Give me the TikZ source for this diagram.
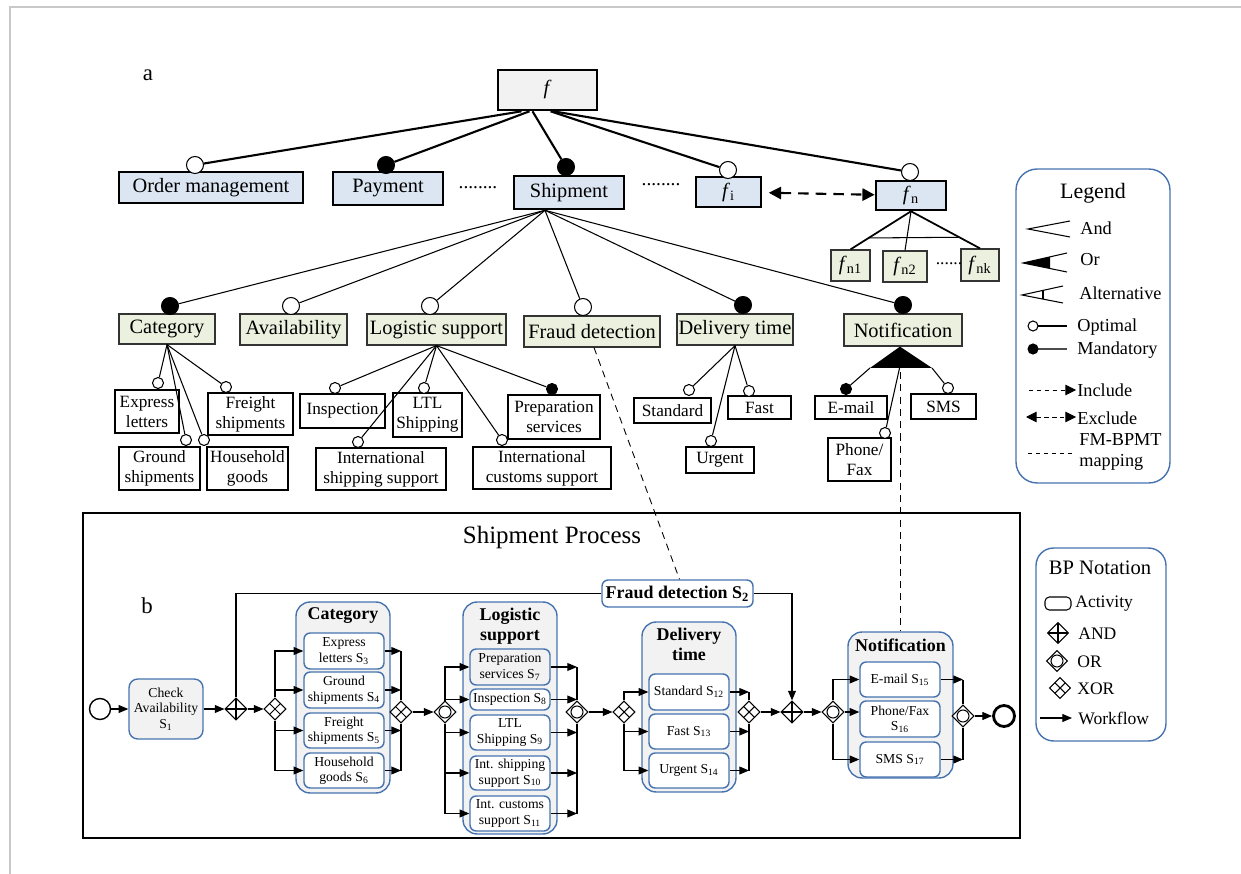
\documentclass[tikz,border=0pt]{standalone}
\usepackage{fontspec}
\setmainfont{Liberation Serif}
\usetikzlibrary{arrows.meta}
\usetikzlibrary{calc}
\usetikzlibrary{positioning}
\usetikzlibrary{shapes.geometric}
\definecolor{fmblue}{RGB}{220,230,242}
\definecolor{fmgreen}{RGB}{235,241,222}
\definecolor{fmgrey}{RGB}{242,242,242}
\definecolor{bpblue}{RGB}{70,115,175}
\definecolor{framegrey}{RGB}{200,200,200}

\begin{document}
\begin{tikzpicture}[x=0.02cm, y=-0.02cm,
  fmbox/.style={draw, inner sep=0pt, font=\fontsize{11.6}{13}\selectfont},
  topbox/.style={fmbox, fill=fmblue},
  midbox/.style={fmbox, fill=fmgreen, draw=black!80, line width=0.7pt},
  leafbox/.style={draw, fill=white, inner sep=0pt, align=center, line width=0.7pt, font=\fontsize{9.8}{11.4}\selectfont},
  optc/.style={circle, draw, fill=white, inner sep=0pt, line width=0.6pt, minimum size=#1},
  optc/.default=0.34cm,
  mandc/.style={circle, draw, fill=black, inner sep=0pt, line width=0.6pt, minimum size=#1},
  mandc/.default=0.34cm,
  mapline/.style={dash pattern=on 4pt off 3pt, line width=0.5pt},
  act/.style={draw=bpblue, fill=white, rounded corners=3.5pt, line width=0.8pt, align=center, inner sep=0pt, font=\fontsize{7.8}{8.8}\selectfont},
  grp/.style={draw=bpblue, fill=fmgrey, rounded corners=8pt, line width=0.8pt, inner sep=0pt},
  grptitle/.style={font=\bfseries\fontsize{10.2}{11.4}\selectfont, align=center, inner sep=0pt},
  gate/.style={diamond, draw, fill=white, inner sep=0pt, minimum size=0.44cm, line width=0.6pt},
  andgw/.style={gate, path picture={\draw[line width=0.6pt] (path picture bounding box.north) -- (path picture bounding box.south) (path picture bounding box.west) -- (path picture bounding box.east);}},
  xorgw/.style={gate, path picture={\draw[line width=0.6pt] ($(path picture bounding box.north)!0.5!(path picture bounding box.west)$) -- ($(path picture bounding box.south)!0.5!(path picture bounding box.east)$) ($(path picture bounding box.north)!0.5!(path picture bounding box.east)$) -- ($(path picture bounding box.south)!0.5!(path picture bounding box.west)$);}},
  orgw/.style={gate, path picture={\draw[line width=0.6pt] (path picture bounding box.center) circle (0.12cm);}},
  flow/.style={-{Triangle[length=5.5pt,width=4.5pt]}, line width=0.6pt},
  legtext/.style={anchor=west, inner sep=0pt, align=left, font=\fontsize{10.4}{11.4}\selectfont}]
\useasboundingbox (0,0) rectangle (1241,874);
\draw[framegrey, line width=0.8pt] (10,874) -- (10,7) -- (1241,7);

% ---------------- feature model (a)
\node[font=\fontsize{13}{15}\selectfont] (lbl-a) at (148,75) {a};
\node[fmbox, fill=fmgrey, line width=1.5pt, minimum width=1.98cm, minimum height=0.8cm] (f) at (547.5,90) {\textit{f}};

\node[topbox, line width=0.9pt, minimum width=3.68cm, minimum height=0.62cm] (om) at (211,187.5) {Order management};
\node[topbox, line width=1.5pt, minimum width=2.2cm, minimum height=0.66cm] (pay) at (388,188.5) {Payment};
\node[topbox, line width=1.5pt, minimum width=2.2cm, minimum height=0.66cm] (shp) at (569,192.5) {Shipment};
\node[topbox, line width=0.9pt, minimum width=1.3cm, minimum height=0.6cm] (fi) at (728.5,192) {\textit{f}\textsubscript{i}};
\node[topbox, line width=1.5pt, minimum width=1.4cm, minimum height=0.58cm] (fn) at (911,195.5) {\textit{f}\textsubscript{n}};
\node[font=\fontsize{11}{13}\selectfont] (dots1) at (478,188) {........};
\node[font=\fontsize{11}{13}\selectfont] (dots2) at (661,185) {........};

\node[optc] (c-om) at (195,165) {};
\node[mandc] (c-pay) at (386,165) {};
\node[mandc] (c-shp) at (566,167) {};
\node[optc] (c-fi) at (728,170) {};
\node[optc] (c-fn) at (910,172) {};
\draw[line width=1.2pt] ($(f.south)+(-26,0)$) -- (c-om);
\draw[line width=1.2pt] ($(f.south)+(-18,0)$) -- (c-pay);
\draw[line width=1.2pt] ($(f.south)+(-15,0)$) -- (c-shp);
\draw[line width=1.2pt] ($(f.south)+(3,0)$) -- (c-fi);
\draw[line width=1.2pt] ($(f.south)+(6,0)$) -- (c-fn);
\draw[dash pattern=on 6pt off 4pt, line width=1.2pt, {Triangle[length=7pt,width=7pt]}-{Triangle[length=7pt,width=7pt]}, shorten <=4pt] (fi) -- (fn);

% children of fn
\node[midbox, minimum width=0.78cm, minimum height=0.62cm] (fn1) at (850.5,265.5) {\textit{f}\textsubscript{n1}};
\node[midbox, minimum width=0.88cm, minimum height=0.62cm] (fn2) at (905,266.5) {\textit{f}\textsubscript{n2}};
\node[midbox, minimum width=0.76cm, minimum height=0.64cm] (fnk) at (980,265) {\textit{f}\textsubscript{nk}};
\node[font=\fontsize{10}{12}\selectfont] (dots3) at (949,264) {......};
\draw[line width=1pt] (fn.south) -- (fn1.north);
\draw[line width=0.6pt] (fn.south) -- (fn2.north);
\draw[line width=1pt] (fn.south) -- (fnk.north);
\draw[line width=0.6pt] ($(fn.south)!0.7!(fn1.north)$) -- ($(fn.south)!0.7!(fnk.north)$);

% level 2
\node[midbox, minimum width=1.92cm, minimum height=0.6cm] (cat) at (167,329) {Category};
\node[midbox, minimum width=2.14cm, minimum height=0.62cm] (avl) at (293.5,329.5) {Availability};
\node[midbox, minimum width=2.78cm, minimum height=0.62cm] (log) at (436.5,329.5) {Logistic support};
\node[midbox, minimum width=2.72cm, minimum height=0.62cm] (frd) at (592,331.5) {Fraud detection};
\node[midbox, minimum width=2.32cm, minimum height=0.62cm] (dlv) at (735,329.5) {Delivery time};
\node[midbox, minimum width=2.36cm, minimum height=0.64cm] (ntf) at (903,330) {Notification};

\node[mandc] (c-cat) at (170,306) {};
\node[optc] (c-avl) at (291,306) {};
\node[optc] (c-log) at (430,306) {};
\node[optc] (c-frd) at (583,307) {};
\node[mandc] (c-dlv) at (743,305) {};
\node[mandc] (c-ntf) at (903,305) {};
\coordinate (shp-b) at ($(shp.south)+(-24,0)$);
\foreach \c in {cat,avl,log,frd,dlv,ntf}
  \draw[line width=0.6pt] (shp-b) -- (c-\c);

% level 3
\node[leafbox, minimum width=1.28cm, minimum height=0.86cm] (exl) at (147,411.5) {Express\\letters};
\node[leafbox, minimum width=1.7cm, minimum height=0.84cm] (frs) at (250.5,414) {Freight\\shipments};
\node[leafbox, minimum width=1.62cm, minimum height=0.86cm] (gnd) at (159.5,468.5) {Ground\\shipments};
\node[leafbox, minimum width=1.62cm, minimum height=0.86cm] (hhg) at (247.5,468.5) {Household\\goods};
\node[leafbox, minimum width=1.7cm, minimum height=0.68cm] (ins) at (342.5,411) {Inspection};
\node[leafbox, minimum width=1.38cm, minimum height=0.88cm] (ltl) at (427.5,415) {LTL\\Shipping};
\node[leafbox, minimum width=1.84cm, minimum height=0.88cm] (prp) at (554,417) {Preparation\\services};
\node[leafbox, minimum width=2.6cm, minimum height=0.84cm] (iss) at (381,469) {International\\shipping support};
\node[leafbox, minimum width=2.76cm, minimum height=0.84cm] (ics) at (542,468) {International\\customs support};
\node[leafbox, minimum width=1.54cm, minimum height=0.5cm] (std) at (672.5,410.5) {Standard};
\node[leafbox, minimum width=1.26cm, minimum height=0.46cm] (fst) at (759.5,407.5) {Fast};
\node[leafbox, minimum width=1.36cm, minimum height=0.52cm] (urg) at (720,460) {Urgent};
\node[leafbox, minimum width=1.44cm, minimum height=0.46cm] (eml) at (851,407.5) {E-mail};
\node[leafbox, minimum width=1.3cm, minimum height=0.5cm] (sms) at (943.5,406.5) {SMS};
\node[leafbox, minimum width=1.26cm, minimum height=0.86cm] (phf) at (859.5,459.5) {Phone/\\Fax};

\node[optc=0.22cm] (c-exl) at (158,383) {};
\node[optc=0.22cm] (c-frs) at (226,387) {};
\node[optc=0.22cm] (c-gnd) at (186,440) {};
\node[optc=0.22cm] (c-hhg) at (204,440) {};
\node[optc=0.22cm] (c-ins) at (335,388) {};
\node[optc=0.22cm] (c-ltl) at (424,388) {};
\node[mandc=0.22cm] (c-prp) at (552,389) {};
\node[optc=0.22cm] (c-iss) at (358,442) {};
\node[optc=0.22cm] (c-ics) at (502,440) {};
\node[optc=0.22cm] (c-std) at (689,390) {};
\node[optc=0.22cm] (c-fst) at (749,391) {};
\node[optc=0.22cm] (c-urg) at (711,441) {};
\node[mandc=0.22cm] (c-eml) at (846,389) {};
\node[optc=0.22cm] (c-sms) at (948,388) {};
\node[optc=0.22cm] (c-phf) at (885,433) {};

\foreach \c in {exl,frs,gnd,hhg}
  \draw[line width=0.6pt] (cat.south) -- (c-\c);
\foreach \c in {ins,ltl,prp,iss,ics}
  \draw[line width=0.6pt] (log.south) -- (c-\c);
\foreach \c in {std,fst,urg}
  \draw[line width=0.6pt] (dlv.south) -- (c-\c);
% or-group of notification
\coordinate (ntf-a) at ($(ntf.south)+(-3,0)$);
\coordinate (ntf-l) at (870,368);
\coordinate (ntf-r) at (932,368);
\coordinate (ntf-m) at (900,366);
\fill (ntf-a) -- (ntf-l) -- (ntf-r) -- cycle;
\draw[line width=0.6pt] (ntf-l) -- (c-eml);
\draw[line width=0.6pt] (ntf-r) -- (c-sms);
\draw[line width=0.6pt] (ntf-m) -- (c-phf);

% ---------------- legend
\node[draw=bpblue, rounded corners=12pt, line width=0.8pt, minimum width=3.08cm, minimum height=6.28cm] (leg) at (1093,326) {};
\node[font=\fontsize{12.5}{14}\selectfont] (leg-t) at (1093,193) {Legend};
\draw[line width=0.6pt] (1070,221) -- (1028,229) -- (1070,237);
\draw[line width=0.6pt] (1067,253) -- (1023,263) -- (1067,272);
\fill (1023,263) -- (1050,257) -- (1050,268.5) -- cycle;
\draw[line width=0.6pt] (1063,286) -- (1022,295) -- (1063,303);
\draw[line width=0.6pt] (1043,290.4) -- (1043,299.1);
\draw[line width=0.6pt] (1038,326) -- (1067,326);
\node[optc=0.2cm] (leg-o) at (1033,326) {};
\draw[black!70, line width=0.6pt] (1038,349) -- (1067,349);
\node[mandc=0.2cm] (leg-m) at (1033,349) {};
\draw[dash pattern=on 2.5pt off 2pt, line width=0.5pt, -{Triangle[length=6pt,width=6pt]}] (1029,390) -- (1076,390);
\draw[dash pattern=on 2.5pt off 2pt, line width=0.5pt, {Triangle[length=6pt,width=6pt]}-{Triangle[length=6pt,width=6pt]}] (1026,417) -- (1076,417);
\draw[dash pattern=on 2.5pt off 2pt, line width=0.4pt] (1028,453) -- (1072,453);
\node[legtext] (l-and) at (1080,228) {And};
\node[legtext] (l-or) at (1080,260) {Or};
\node[legtext] (l-alt) at (1079,293) {Alternative};
\node[legtext] (l-opt) at (1077,327) {Optimal};
\node[legtext] (l-man) at (1077,350) {Mandatory};
\node[legtext] (l-inc) at (1077,390) {Include};
\node[legtext] (l-exc) at (1077,418) {Exclude};
\node[legtext] (l-map) at (1079,452) {FM-BPMT\\mapping};

% ---------------- business process (b)
\node[draw, line width=1.4pt, minimum width=18.74cm, minimum height=6.5cm] (proc) at (551.5,675.5) {};
\node[font=\fontsize{14.2}{16}\selectfont] (proc-t) at (552,538) {Shipment Process};
\node[font=\fontsize{13}{15}\selectfont] (lbl-b) at (147,606) {b};

\node[circle, draw, line width=0.8pt, minimum size=0.42cm, inner sep=0pt] (start) at (100,709) {};
\node[act, fill=fmgrey, rounded corners=5pt, minimum width=1.48cm, minimum height=1.2cm] (chk) at (166,709) {Check\\Availability\\S\textsubscript{1}};
\node[andgw] (and1) at (236,709) {};
\node[xorgw] (xor1) at (275,709) {};

\node[grp, minimum width=1.88cm, minimum height=3.82cm] (catgrp) at (343,697.5) {};
\node[grptitle, below=0.12cm of catgrp.north] (catgrp-t) {Category};
\node[act, minimum width=1.6cm, minimum height=0.72cm] (s3) at (344,651) {Express\\letters S\textsubscript{3}};
\node[act, minimum width=1.6cm, minimum height=0.72cm] (s4) at (344,690) {Ground\\shipments S\textsubscript{4}};
\node[act, minimum width=1.6cm, minimum height=0.7cm] (s5) at (344,730.5) {Freight\\shipments S\textsubscript{5}};
\node[act, minimum width=1.6cm, minimum height=0.7cm] (s6) at (344,770.5) {Household\\goods S\textsubscript{6}};
\node[xorgw] (xor2) at (401,712) {};
\node[orgw] (or1) at (445,712) {};

\node[grp, minimum width=1.88cm, minimum height=4.64cm] (loggrp) at (510,718) {};
\node[grptitle, below=0.12cm of loggrp.north] (loggrp-t) {Logistic\\support};
\node[act, fill=fmgrey, minimum width=1.6cm, minimum height=0.72cm] (s7) at (510,667) {Preparation\\services S\textsubscript{7}};
\node[act, minimum width=1.6cm, minimum height=0.42cm] (s8) at (510,699.5) {Inspection S\textsubscript{8}};
\node[act, minimum width=1.6cm, minimum height=0.7cm] (s9) at (510,732.5) {LTL\\Shipping S\textsubscript{9}};
\node[act, minimum width=1.6cm, minimum height=0.68cm] (s10) at (510,773) {Int. shipping\\support S\textsubscript{10}};
\node[act, minimum width=1.6cm, minimum height=0.7cm] (s11) at (510,813.5) {Int. customs\\support S\textsubscript{11}};
\node[orgw] (or2) at (577,712) {};
\node[xorgw] (xor3) at (624,712) {};

\node[grp, minimum width=1.88cm, minimum height=3.4cm] (dlvgrp) at (689,707) {};
\node[grptitle, below=0.12cm of dlvgrp.north] (dlvgrp-t) {Delivery\\time};
\node[act, minimum width=1.6cm, minimum height=0.72cm] (s12) at (689,692) {Standard S\textsubscript{12}};
\node[act, minimum width=1.6cm, minimum height=0.7cm] (s13) at (689,731.5) {Fast S\textsubscript{13}};
\node[act, minimum width=1.6cm, minimum height=0.7cm] (s14) at (689,770.5) {Urgent S\textsubscript{14}};
\node[xorgw] (xor4) at (749,712) {};
\node[andgw] (and2) at (792,712) {};
\node[act, font=\bfseries\fontsize{10.2}{12}\selectfont, minimum width=3.02cm, minimum height=0.54cm] (s2) at (677.5,593.5) {Fraud detection S\textsubscript{2}};

\node[orgw] (or3) at (833,712) {};
\node[grp, minimum width=2.1cm, minimum height=2.92cm] (ntfgrp) at (900.5,705) {};
\node[grptitle, below=0.14cm of ntfgrp.north] (ntfgrp-t) {Notification};
\node[act, minimum width=1.6cm, minimum height=0.7cm] (s15) at (900,679.5) {E-mail S\textsubscript{15}};
\node[act, minimum width=1.6cm, minimum height=0.72cm] (s16) at (900,719) {Phone/Fax\\S\textsubscript{16}};
\node[act, minimum width=1.6cm, minimum height=0.7cm] (s17) at (900,759.5) {SMS S\textsubscript{17}};
\node[orgw] (or4) at (963,716) {};
\node[circle, draw, line width=1.6pt, minimum size=0.42cm, inner sep=0pt] (end) at (1004,716) {};

% workflow
\draw[flow] (start) -- (chk);
\draw[flow] (chk) -- (and1);
\draw[flow] (and1) -- (xor1);
\draw[line width=0.6pt] (and1.north) |- (s2.west);
\draw[flow] (s2.east) -| (and2.north);
\draw[flow] (xor1.north) |- (s3.west);
\draw[flow] (xor1.north) |- (s4.west);
\draw[flow] (xor1.south) |- (s5.west);
\draw[flow] (xor1.south) |- (s6.west);
\draw[line width=0.6pt] (xor2.north) -- (xor2.north |- s3.east);
\draw[line width=0.6pt] (xor2.south) -- (xor2.south |- s6.east);
\foreach \s in {s3,s4,s5,s6}
  \draw[flow] (\s.east) -- (\s.east -| xor2.north);
\draw[flow] (xor2) -- (or1);
\draw[flow] (or1.north) |- (s7.west);
\draw[flow] (or1.north) |- (s8.west);
\draw[flow] (or1.south) |- (s9.west);
\draw[flow] (or1.south) |- (s10.west);
\draw[flow] (or1.south) |- (s11.west);
\draw[line width=0.6pt] (or2.north) -- (or2.north |- s7.east);
\draw[line width=0.6pt] (or2.south) -- (or2.south |- s11.east);
\foreach \s in {s7,s8,s9,s10,s11}
  \draw[flow] (\s.east) -- (\s.east -| or2.north);
\draw[flow] (or2) -- (xor3);
\draw[flow] (xor3.north) |- (s12.west);
\draw[flow] (xor3.south) |- (s13.west);
\draw[flow] (xor3.south) |- (s14.west);
\draw[line width=0.6pt] (xor4.north) -- (xor4.north |- s12.east);
\draw[line width=0.6pt] (xor4.south) -- (xor4.south |- s14.east);
\foreach \s in {s12,s13,s14}
  \draw[flow] (\s.east) -- (\s.east -| xor4.north);
\draw[flow] (xor4) -- (and2);
\draw[flow] (and2) -- (or3);
\draw[flow] (or3.north) |- (s15.west);
\draw[flow] (or3.east) -- (or3.east -| s16.west);
\draw[flow] (or3.south) |- (s17.west);
\draw[line width=0.6pt] (or4.north) -- (or4.north |- s15.east);
\draw[line width=0.6pt] (or4.south) -- (or4.south |- s17.east);
\foreach \s in {s15,s17}
  \draw[flow] (\s.east) -- (\s.east -| or4.north);
\draw[flow] (or4) -- (end);

% FM-BPMT mapping
\draw[mapline] ($(frd.south)+(2,0)$) -- ($(s2.north)+(2,0)$);
\draw[mapline] ($(ntf-m)+(0,6)$) -- (ntf-m |- ntfgrp.north);

% ---------------- BP notation
\node[draw=bpblue, rounded corners=10pt, line width=0.8pt, minimum width=2.6cm, minimum height=3.86cm] (bpn) at (1101,644.5) {};
\node[font=\fontsize{11.7}{13}\selectfont] (bpn-t) at (1100,568) {BP Notation};
\node[draw, rounded corners=2.5pt, line width=0.6pt, minimum width=0.52cm, minimum height=0.26cm, inner sep=0pt] (bpn-act) at (1058,603.5) {};
\node[andgw, minimum size=0.42cm] (bpn-and) at (1058,633) {};
\node[orgw, minimum size=0.42cm] (bpn-or) at (1057,661) {};
\node[xorgw, minimum size=0.42cm] (bpn-xor) at (1060,688) {};
\coordinate (bpn-w0) at (1040,718);
\coordinate (bpn-w1) at (1072,718);
\draw[flow] (bpn-w0) -- (bpn-w1);
\node[legtext, font=\fontsize{10}{11}\selectfont] (b-act) at (1075,604) {Activity};
\node[legtext, font=\fontsize{10}{11}\selectfont] (b-and) at (1078,634) {AND};
\node[legtext, font=\fontsize{10}{11}\selectfont] (b-or) at (1077,662) {OR};
\node[legtext, font=\fontsize{10}{11}\selectfont] (b-xor) at (1077,689) {XOR};
\node[legtext, font=\fontsize{10}{11}\selectfont] (b-wf) at (1078,718) {Workflow};
\end{tikzpicture}
\end{document}
